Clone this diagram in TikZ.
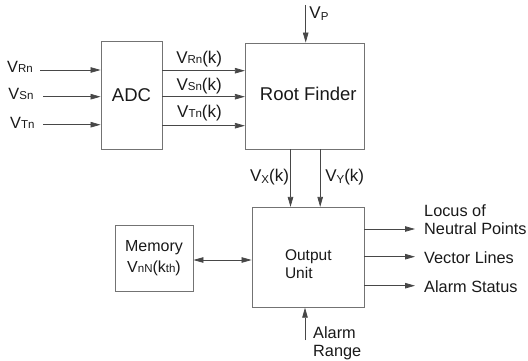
\documentclass[tikz,border=0pt]{standalone}
\usepackage{fontspec}
\setmainfont{Liberation Sans}
\usetikzlibrary{arrows.meta}
\newcommand\sbx[1]{{\fontsize{11.5}{12}\selectfont #1}}
\begin{document}
\begin{tikzpicture}[x=1pt,y=-1pt,
  box/.style={draw=black!55, line width=0.8pt, inner sep=0pt},
  arr/.style={draw=black!72, line width=0.75pt, -{Triangle[length=10pt,width=5.5pt]}},
  darr/.style={draw=black!72, line width=0.75pt, {Triangle[length=10pt,width=5.5pt]}-{Triangle[length=10pt,width=5.5pt]}},
  lbl/.style={inner sep=0pt, font=\fontsize{16.3}{18}\selectfont, text=black!90},
  big/.style={font=\fontsize{18.5}{20}\selectfont, text=black!90},
]
\useasboundingbox (0,0) rectangle (528,361);

% boxes
\node[box, big, minimum width=61pt, minimum height=108pt] (adc) at (131.5,95) {ADC};
\node[box, minimum width=119pt, minimum height=106pt] (rf) at (304.8,96) {};
\node[big, inner sep=0pt] (rft) at (308.3,94) {Root Finder};
\node[box, minimum width=112pt, minimum height=100pt] (out) at (308,257.3) {};
\node[lbl, font=\fontsize{15.5}{17}\selectfont, align=left] (outt) at (308.3,264.5) {Output\\[1pt]Unit};
\node[box, minimum width=78pt, minimum height=66pt, lbl, font=\fontsize{16}{18}\selectfont, align=center] (mem) at (154,258) {Memory\\[3pt]V\sbx{nN}(k\sbx{th})};

% input labels and arrows
\node[lbl, anchor=west] (vrn) at (7,66.8) {V\sbx{Rn}};
\node[lbl, anchor=west] (vsn) at (8.3,93.7) {V\sbx{Sn}};
\node[lbl, anchor=west] (vtn) at (10,123) {V\sbx{Tn}};
\coordinate (i1) at (40,70);
\coordinate (i2) at (43.3,96.7);
\coordinate (i3) at (43.3,124.7);
\draw[arr] (i1) -- (adc.west |- i1);
\draw[arr] (i2) -- (adc.west |- i2);
\draw[arr] (i3) -- (adc.west |- i3);

% ADC -> Root Finder
\coordinate (o1) at (162,70.7);
\coordinate (o2) at (162,96.7);
\coordinate (o3) at (162,125.7);
\draw[arr] (o1) -- (rf.west |- o1);
\draw[arr] (o2) -- (rf.west |- o2);
\draw[arr] (o3) -- (rf.west |- o3);
\node[lbl, font=\fontsize{17}{18}\selectfont] (lrk) at (199.2,59.5) {V\sbx{Rn}(k)};
\node[lbl, font=\fontsize{17}{18}\selectfont] (lsk) at (199.2,86.3) {V\sbx{Sn}(k)};
\node[lbl, font=\fontsize{17}{18}\selectfont] (ltk) at (199.5,113) {V\sbx{Tn}(k)};

% Vp
\coordinate (vp) at (305.7,5);
\draw[arr] (vp) -- (rf.north -| vp);
\node[lbl, font=\fontsize{17}{18}\selectfont] (vpl) at (319,13.5) {V\raisebox{-2.5pt}{\sbx{P}}};

% Root finder -> output
\coordinate (xx) at (290.5,0);
\coordinate (yy) at (320.2,0);
\draw[arr] (rf.south -| xx) -- (out.north -| xx);
\draw[arr] (rf.south -| yy) -- (out.north -| yy);
\node[lbl, font=\fontsize{17}{18}\selectfont] (vxl) at (269.5,177) {V\raisebox{-2pt}{\sbx{X}}(k)};
\node[lbl, font=\fontsize{17}{18}\selectfont] (vyl) at (344.7,177.5) {V\raisebox{-2pt}{\sbx{Y}}(k)};

% memory <-> output
\draw[darr] (mem.east |- 0,260) -- (out.west |- 0,260);

% outputs
\coordinate (e1) at (415,229);
\coordinate (e2) at (415,256.7);
\coordinate (e3) at (415,285.7);
\draw[arr] (out.east |- e1) -- (e1);
\draw[arr] (out.east |- e2) -- (e2);
\draw[arr] (out.east |- e3) -- (e3);
\node[lbl, anchor=west, align=left] (locus) at (424,220) {Locus of\\Neutral Points};
\node[lbl, anchor=west] (vec) at (424,257.7) {Vector Lines};
\node[lbl, anchor=west] (alst) at (424,286.7) {Alarm Status};

% alarm range
\coordinate (ar) at (305,340);
\draw[arr] (ar) -- (out.south -| ar);
\node[lbl, anchor=west, align=left] (arl) at (313,343) {Alarm\\Range};
\end{tikzpicture}
\end{document}
